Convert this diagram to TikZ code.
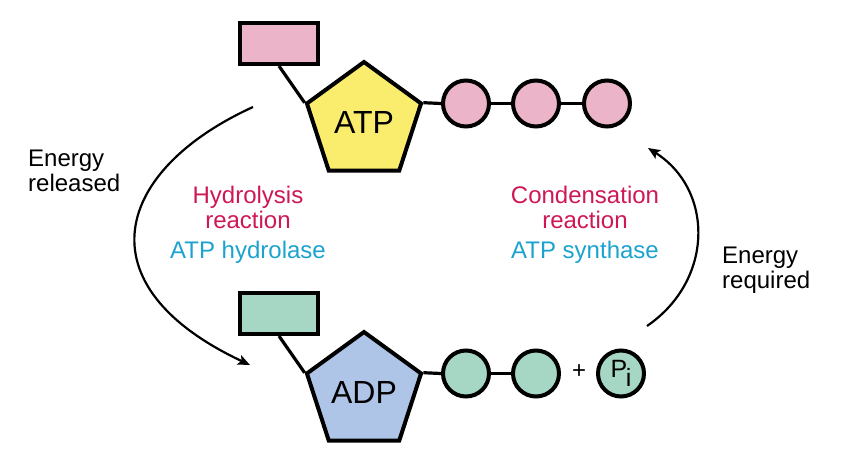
\documentclass[tikz,border=0pt]{standalone}
\usepackage{fontspec}
\setmainfont{Liberation Sans}
\usetikzlibrary{shapes.geometric,arrows.meta}
\definecolor{pinkc}{RGB}{236,180,200}
\definecolor{yellowc}{RGB}{250,236,108}
\definecolor{tealc}{RGB}{166,214,196}
\definecolor{bluec}{RGB}{175,197,232}
\definecolor{redtxt}{RGB}{206,24,86}
\definecolor{cyantxt}{RGB}{28,162,206}
\begin{document}
\begin{tikzpicture}[x=1pt,y=-1pt,
  sugar/.style={draw=black,line width=4pt,fill=#1,minimum width=78pt,minimum height=41pt,inner sep=0pt},
  base/.style={regular polygon,regular polygon sides=5,draw=black,line width=4pt,fill=#1,minimum size=120pt,inner sep=0pt,font=\fontsize{32}{32}\selectfont},
  phos/.style={circle,draw=black,line width=4pt,fill=#1,minimum size=46pt,inner sep=0pt},
  bond/.style={line width=3.2pt},
  cyc/.style={line width=2.2pt,-{Stealth[length=12pt,width=10pt,inset=2.5pt]}},
  lbl/.style={font=\fontsize{24}{25}\selectfont,align=center,inner sep=0pt}]
\useasboundingbox (0,0) rectangle (859,463);

% ATP
\node[sugar=pinkc] (rs1) at (279,43.5) {};
\node[base=yellowc] (atp) at (364,122) {ATP};
\node[phos=pinkc] (a1) at (466,103.5) {};
\node[phos=pinkc] (a2) at (536,103.5) {};
\node[phos=pinkc] (a3) at (607,103.5) {};
\draw[bond] (rs1.south) -- (atp.corner 2);
\draw[bond] (atp.corner 5) -- (a1.west);
\draw[bond] (a1.east) -- (a2.west);
\draw[bond] (a2.east) -- (a3.west);

% ADP
\node[sugar=tealc] (rs2) at (279,313.5) {};
\node[base=bluec] (adp) at (364,392) {ADP};
\node[phos=tealc] (d1) at (466,373.5) {};
\node[phos=tealc] (d2) at (536,373.5) {};
\node[font=\fontsize{24}{24}\selectfont] (plus) at (579,372) {+};
\node[phos=tealc,font=\fontsize{25}{25}\selectfont] (pi) at (621,373.5) {\raisebox{1pt}{P}\kern-1.5pt\raisebox{-8pt}{i}};
\draw[bond] (rs2.south) -- (adp.corner 2);
\draw[bond] (adp.corner 5) -- (d1.west);
\draw[bond] (d1.east) -- (d2.west);

% cycle arrows
\coordinate (h0) at (253,107);
\coordinate (h1) at (250,365);
\coordinate (c0) at (647,326);
\coordinate (c1) at (648,148);
\draw[cyc] (h0) .. controls (115,170) and (80,285) .. (h1);
\draw[cyc] (c0) .. controls (714,280) and (714,190) .. (c1);

% labels
\node[lbl,align=left,anchor=west] (er) at (28,171) {Energy\\released};
\node[lbl,align=left,anchor=west] (eq) at (722,270.5) {Energy\\required};
\node[lbl,text=redtxt] (hyd) at (248,207.5) {Hydrolysis\\reaction};
\node[lbl,text=cyantxt] (hydz) at (248,252) {ATP hydrolase};
\node[lbl,text=redtxt] (con) at (585,207.5) {Condensation\\reaction};
\node[lbl,text=cyantxt] (conz) at (585,252) {ATP synthase};
\end{tikzpicture}
\end{document}
